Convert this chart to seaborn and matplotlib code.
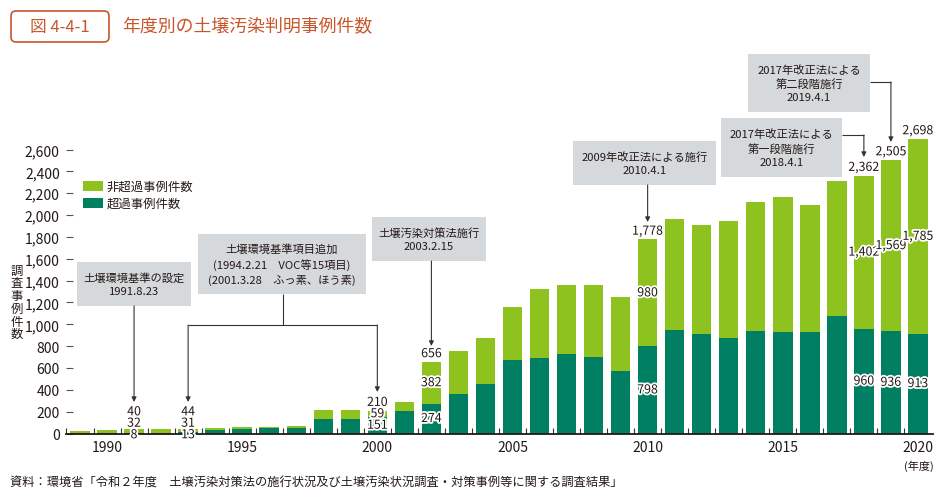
import numpy as np
import pandas as pd
import matplotlib
matplotlib.use("Agg")
import matplotlib.pyplot as plt
import seaborn as sns
from matplotlib.patches import Rectangle, FancyBboxPatch, Patch
import matplotlib.patheffects as pe
import matplotlib.transforms as mtransforms

# ---------------- data ----------------
years = list(range(1989, 2021))
total = [24, 30, 40, 37, 44, 47, 57, 60, 69, 215, 215, 210, 286, 656, 758, 872,
         1156, 1323, 1363, 1363, 1247, 1778, 1964, 1909, 1949, 2117, 2163, 2096,
         2315, 2362, 2505, 2698]
exceed = [3, 3, 8, 7, 13, 35, 44, 48, 53, 133, 130, 151, 209, 274, 362, 453,
          673, 691, 728, 698, 575, 798, 948, 911, 872, 939, 932, 932,
          1079, 960, 936, 913]
non_exceed = [t - e for t, e in zip(total, exceed)]
year_ticks = [1990, 1995, 2000, 2005, 2010, 2015, 2020]
series_names = ["非超過事例件数", "超過事例件数"]
labeled_years = [1991, 1993, 2000, 2002, 2010, 2018, 2019, 2020]
stacked_label_years = [1991, 1993]

title_tag = "図 4-4-1"
title = "年度別の土壌汚染判明事例件数"
ylabel = "調\n査\n事\n例\n件\n数"
xunit = "(年度)"
source = "資料：環境省「令和２年度　土壌汚染対策法の施行状況及び土壌汚染状況調査・対策事例等に関する調査結果」"

events = [
    "土壌環境基準の設定\n1991.8.23",
    "土壌環境基準項目追加\n(1994.2.21　VOC等15項目)\n(2001.3.28　ふっ素、ほう素)",
    "土壌汚染対策法施行\n2003.2.15",
    "2009年改正法による施行\n2010.4.1",
    "2017年改正法による\n第一段階施行\n2018.4.1",
    "2017年改正法による\n第二段階施行\n2019.4.1",
]

# ---------------- style ----------------
LIGHT = "#8DC21F"
DARK = "#007F62"
ORANGE = "#C8562A"
TXT = "#231815"
BOXC = "#D5D9DC"
LINEC = "#333333"

sns.set_theme(style="white")
plt.rcParams["font.family"] = ["Noto Sans CJK JP", "DejaVu Sans"]

W, H = 946, 502
fig = plt.figure(figsize=(W / 100, H / 100), dpi=100)
AX_L, AX_R, AX_B, AX_T = 66, 933, 434.5, 40
ax = fig.add_axes([AX_L / W, 1 - AX_B / H, (AX_R - AX_L) / W, (AX_B - AX_T) / H])

df = pd.DataFrame({"year": [str(y) for y in years], "total": total, "exceed": exceed})
order = [str(y) for y in years]
sns.barplot(data=df, x="year", y="total", order=order, color=LIGHT, saturation=1,
            width=0.72, errorbar=None, ax=ax, linewidth=0)
sns.barplot(data=df, x="year", y="exceed", order=order, color=DARK, saturation=1,
            width=0.72, errorbar=None, ax=ax, linewidth=0)

PXU = 0.1092          # pixels per data unit
X0, DX = 80, 27.03    # pixel of first bar centre, pixel spacing
ax.set_xlim((AX_L - X0) / DX, (AX_R - X0) / DX)
ax.set_ylim(0, (AX_B - AX_T) / PXU)


def X(px):
    return (px - X0) / DX


def Y(py):
    return (AX_B - py) / PXU


def idx(y):
    return years.index(y)


# axes styling
for s in ["left", "top", "right"]:
    ax.spines[s].set_visible(False)
ax.spines["bottom"].set_color(TXT)
ax.spines["bottom"].set_linewidth(1.3)
yt = list(range(0, 2601, 200))
ax.set_yticks(yt)
ax.set_yticklabels([f"{v:,}" for v in yt])
ax.tick_params(axis="y", direction="in", length=5, width=0.8, color="#555555",
               pad=4.5, labelsize=10, labelcolor=TXT, left=True)
ax.set_xticks([idx(y) for y in year_ticks])
ax.set_xticklabels([str(y) for y in year_ticks])
ax.set_xticks(np.arange(-0.5, len(years) - 1, 1), minor=True)
ax.tick_params(axis="x", which="major", length=0, pad=5, labelsize=10, labelcolor=TXT)
ax.tick_params(axis="x", which="minor", direction="in", length=4, width=0.8,
               color=LINEC, bottom=True)
ax.set_xlabel("")
ax.set_ylabel("")
ax.grid(False)

# value labels
stroke = [pe.withStroke(linewidth=2.6, foreground="white")]
lab_kw = dict(ha="center", fontsize=8.9, color=TXT, path_effects=stroke, zorder=5)
for y in labeled_years:
    i = idx(y)
    t, e, n = total[i], exceed[i], non_exceed[i]
    if y in stacked_label_years:
        for val, off in [(e, -0.9), (n, 7.4), (t, 15.6)]:
            ax.annotate(f"{val:,}", (i, 0), xytext=(0, off), textcoords="offset points",
                        va="center", annotation_clip=False, **lab_kw)
    else:
        ax.annotate(f"{t:,}", (i, t), xytext=(0, 1.2), textcoords="offset points",
                    va="bottom", annotation_clip=False, **lab_kw)
        ax.text(i, e + n / 2, f"{n:,}", va="center", **lab_kw)
        ax.text(i, e / 2, f"{e:,}", va="center", **lab_kw)

# event boxes (pixel geometry)
box_px = [(77, 263, 191, 307), (198, 235, 366, 295), (372, 218, 486, 262),
          (573, 142, 716, 186), (721, 119, 842, 178), (748, 55, 870, 113)]
for (x0, y0, x1, y1), txt in zip(box_px, events):
    ax.add_patch(Rectangle((X(x0), Y(y1)), X(x1) - X(x0), Y(y0) - Y(y1),
                           facecolor=BOXC, edgecolor="none", zorder=3, clip_on=False))
    ax.text((X(x0) + X(x1)) / 2, (Y(y0) + Y(y1)) / 2, txt, ha="center", va="center",
            fontsize=8.1, color=TXT, linespacing=1.4, zorder=4, clip_on=False)


def line(p0, p1):
    ax.plot([p0[0], p1[0]], [p0[1], p1[1]], color=LINEC, lw=0.8, zorder=3,
            clip_on=False, solid_capstyle="butt")


def arrow(p0, p1):
    ax.annotate("", xy=p1, xytext=p0, annotation_clip=False,
                arrowprops=dict(arrowstyle="-|>", color=LINEC, lw=0.8,
                                mutation_scale=7, shrinkA=0, shrinkB=0), zorder=3)


arrow((idx(1991), Y(307)), (idx(1991), Y(403)))
line((X(283), Y(295)), (X(283), Y(326)))
line((idx(1993), Y(326)), (idx(2000), Y(326)))
arrow((idx(1993), Y(326)), (idx(1993), Y(403)))
arrow((idx(2000), Y(326)), (idx(2000), Y(393)))
arrow((idx(2002), Y(262)), (idx(2002), Y(347)))
arrow((idx(2010), Y(186)), (idx(2010), Y(223)))
line((X(842), Y(136)), (idx(2018), Y(136)))
arrow((idx(2018), Y(136)), (idx(2018), Y(158)))
line((X(870), Y(83)), (idx(2019), Y(83)))
arrow((idx(2019), Y(83)), (idx(2019), Y(143)))

# legend
handles = [Patch(facecolor=LIGHT, edgecolor="none"), Patch(facecolor=DARK, edgecolor="none")]
ax.legend(handles, series_names, loc="upper left", bbox_to_anchor=(83 / W, 1 - 181 / H),
          bbox_transform=fig.transFigure, frameon=False, fontsize=8.9,
          handlelength=1.62, handleheight=0.88, handletextpad=0.3, labelspacing=0.33,
          borderpad=0, borderaxespad=0, labelcolor=TXT)

# y label, unit, title, source
fig.text(17 / W, 1 - 303 / H, ylabel, ha="center", va="center", fontsize=8.9,
         color=TXT, linespacing=0.97)
fig.text(919 / W, 1 - 466 / H, xunit, ha="center", va="center", fontsize=8, color=TXT)

tag = FancyBboxPatch((11, H - 43), 98, 31, boxstyle="round,pad=0,rounding_size=5",
                     transform=mtransforms.IdentityTransform(), facecolor="white",
                     edgecolor=ORANGE, linewidth=1.2)
fig.patches.append(tag)
fig.text(60 / W, 1 - 27.5 / H, title_tag, ha="center", va="center", fontsize=12,
         color=ORANGE)
fig.text(122 / W, 1 - 27 / H, title, ha="left", va="center", fontsize=12.9, color=ORANGE)
fig.text(10 / W, 1 - 483 / H, source, ha="left", va="center", fontsize=8.8, color=TXT)

fig.savefig("out.png", dpi=100)
